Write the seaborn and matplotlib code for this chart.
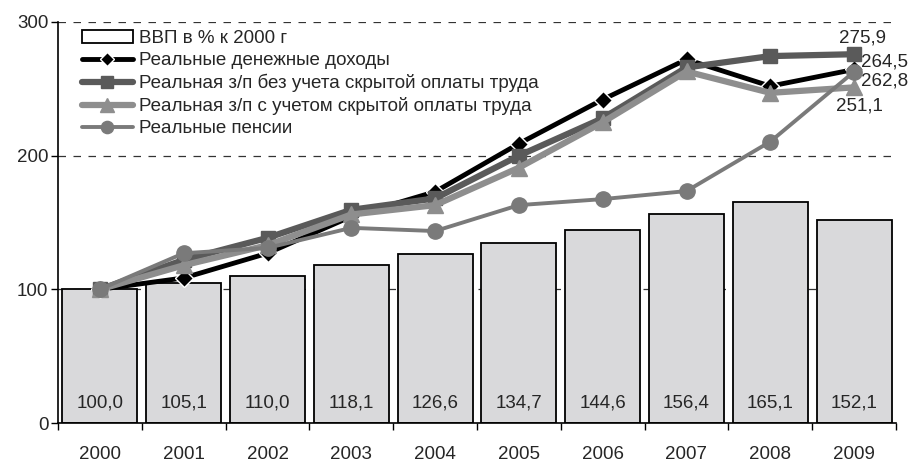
import numpy as np
import pandas as pd
import matplotlib
matplotlib.use('Agg')
import matplotlib.pyplot as plt
import seaborn as sns
from matplotlib.lines import Line2D
from matplotlib.patches import Patch

years = ['2000', '2001', '2002', '2003', '2004', '2005', '2006', '2007', '2008', '2009']
gdp = [100.0, 105.1, 110.0, 118.1, 126.6, 134.7, 144.6, 156.4, 165.1, 152.1]
incomes = [100, 108.5, 127, 154.5, 173, 209, 242, 272, 252, 264.5]
wage_no_hidden = [100, 122, 138.5, 159.5, 168, 200, 228, 266, 274.5, 275.9]
wage_hidden = [100, 118, 133, 156, 163, 191, 225, 263, 247, 251.1]
pensions = [100, 127, 131, 146, 143.6, 163, 167.5, 173.5, 210.5, 262.8]

series_names = ['Реальные денежные доходы',
                'Реальная з/п без учета скрытой оплаты труда',
                'Реальная з/п с учетом скрытой оплаты труда',
                'Реальные пенсии']

FS = 13.5

sns.set_style('white')
plt.rcParams['font.family'] = ['Liberation Sans', 'DejaVu Sans']
plt.rcParams['font.size'] = FS

fig = plt.figure(figsize=(9.08, 4.63), dpi=100)
ax = fig.add_axes([58 / 908, 40 / 463, 838 / 908, 401 / 463])

df = pd.DataFrame({'year': years, 'gdp': gdp})
sns.barplot(data=df, x='year', y='gdp', color='#d9d9db', saturation=1,
            edgecolor='black', linewidth=1.3, width=0.895, ax=ax, zorder=2)

for patch, v in zip(ax.patches, gdp):
    ax.text(patch.get_x() + patch.get_width() / 2, 15, f'{v:.1f}'.replace('.', ','),
            ha='center', va='center', fontsize=FS, zorder=5)

x = np.arange(len(years))
# series styles: color, marker, marker size, line width, marker edge
styles = [
    ('black', 'D', 9, 3.5, 'white'),
    ('#5a5a5a', 's', 10, 4.5, '#5a5a5a'),
    ('#8e8e8e', '^', 12, 4.5, '#8e8e8e'),
    ('#7a7a7a', 'o', 11, 2.8, '#7a7a7a'),
]
all_series = [incomes, wage_no_hidden, wage_hidden, pensions]
handles = [Patch(facecolor='white', edgecolor='black', linewidth=1.3)]
for vals, (c, m, ms, lw, mec), name in zip(all_series, styles, series_names):
    ax.plot(x, vals, color=c, marker=m, markersize=ms, linewidth=lw,
            markeredgecolor=mec, markeredgewidth=1, zorder=4)
    handles.append(Line2D([], [], color=c, marker=m, markersize=ms * 0.8, linewidth=lw,
                          markeredgecolor=mec, markeredgewidth=1))

labels = ['ВВП в % к 2000 г'] + series_names
ax.legend(handles, labels, loc='upper left', bbox_to_anchor=(0.0286, 0.98),
          frameon=False, borderpad=0, borderaxespad=0, handlelength=2.7,
          handletextpad=0.35, labelspacing=0.26, fontsize=FS)

# end labels for 2009
ends = [(wage_no_hidden[-1], (6, 12), 'center'),
        (incomes[-1], (5, 5.5), 'left'),
        (pensions[-1], (5, -6.8), 'left'),
        (wage_hidden[-1], (3.5, -13.5), 'center')]
for v, off, ha in ends:
    ax.annotate(f'{v:.1f}'.replace('.', ','), (x[-1], v), xytext=off,
                textcoords='offset points', ha=ha, va='center', fontsize=FS,
                annotation_clip=False, zorder=6)

ax.set_ylim(0, 300)
ax.set_xlim(-0.5, len(years) - 0.5)
ax.set_yticks([0, 100, 200, 300])
ax.yaxis.grid(True, linestyle=(0, (6, 6)), color='#333333', linewidth=0.9)
ax.set_axisbelow(True)
ax.set_xlabel('')
ax.set_ylabel('')

for s in ['top', 'right']:
    ax.spines[s].set_visible(False)
for s in ['left', 'bottom']:
    ax.spines[s].set_color('black')
    ax.spines[s].set_linewidth(1.2)

ax.set_xticks(np.arange(-0.5, len(years)), minor=True)
ax.tick_params(axis='x', which='major', length=0, pad=16.5, labelsize=FS)
ax.tick_params(axis='x', which='minor', length=5, width=1, color='black', direction='out')
ax.tick_params(axis='y', length=5, width=1, color='black', direction='out', pad=2, labelsize=FS)
ax.tick_params(axis='x', which='minor', bottom=True)
ax.tick_params(axis='y', left=True)

fig.savefig('out.png', dpi=100)
